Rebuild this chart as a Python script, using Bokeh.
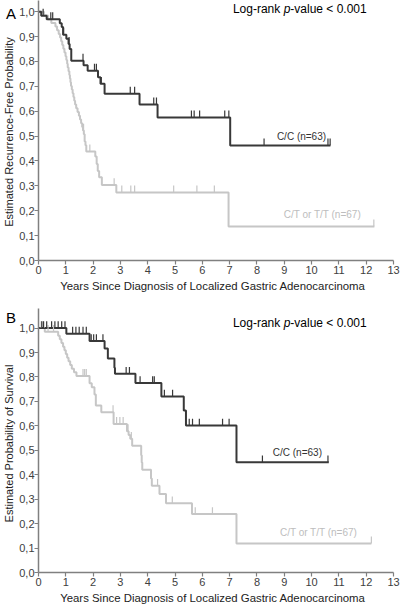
import numpy as np
from bokeh.plotting import figure
from bokeh.layouts import column
from bokeh.models import Label, FixedTicker, CustomJSTickFormatter, Range1d, Div
from bokeh.embed import file_html
from bokeh.resources import INLINE

# ---------------- data ----------------
x_ticks = list(range(0, 14))
y_ticks = [0.0, 0.1, 0.2, 0.3, 0.4, 0.5, 0.6, 0.7, 0.8, 0.9, 1.0]

# Panel A: recurrence-free probability
rfs_cc_t = [0, 0.10, 0.30, 0.78, 0.85, 0.90, 1.02, 1.10, 1.14, 1.20, 1.65, 1.80, 2.18, 2.27, 2.42, 3.70, 4.36, 7.02, 10.69]
rfs_cc_s = [1.0, 0.984, 0.970, 0.954, 0.938, 0.907, 0.891, 0.870, 0.850, 0.803, 0.785, 0.763, 0.737, 0.710, 0.670, 0.627, 0.575, 0.462, 0.462]
rfs_cc_cens = [0.17, 0.45, 0.52, 0.92, 1.12, 1.63, 2.05, 2.12, 2.30, 3.36, 3.52, 4.22, 4.32, 5.60, 5.70, 5.90, 6.82, 6.97, 8.26, 10.60, 10.68]

rfs_ct_t = [0, 0.20, 0.35, 0.47, 0.62, 0.68, 0.74, 0.79, 0.83, 0.87, 0.91, 0.95, 0.99, 1.02, 1.05, 1.07, 1.10, 1.13, 1.15,
            1.17, 1.19, 1.22, 1.25, 1.28, 1.31, 1.34, 1.38, 1.43, 1.48, 1.52, 1.56, 1.60, 1.63, 1.66, 1.69, 1.72, 1.75,
            2.08, 2.13, 2.17, 2.22, 2.32, 2.85, 6.96, 12.30]
rfs_ct_s = [1.0, 0.985, 0.970, 0.955, 0.940, 0.925, 0.910, 0.896, 0.881, 0.866, 0.851, 0.836, 0.821, 0.806, 0.791, 0.776, 0.761, 0.746, 0.731,
            0.716, 0.701, 0.687, 0.672, 0.657, 0.642, 0.627, 0.612, 0.597, 0.582, 0.567, 0.552, 0.537, 0.522, 0.507, 0.478, 0.463, 0.438,
            0.418, 0.388, 0.360, 0.335, 0.303, 0.273, 0.137, 0.137]
rfs_ct_cens = [1.65, 1.88, 2.77, 3.05, 3.38, 3.52, 4.95, 5.80, 6.44, 12.28]

# Panel B: overall survival
os_cc_t = [0, 1.02, 1.87, 2.42, 2.54, 2.78, 2.80, 3.55, 4.50, 5.32, 5.40, 7.25, 10.63]
os_cc_s = [1.0, 0.977, 0.947, 0.916, 0.875, 0.838, 0.813, 0.775, 0.720, 0.663, 0.601, 0.451, 0.451]
os_cc_cens = [0.12, 0.18, 0.30, 0.48, 0.60, 0.72, 0.85, 0.97, 1.25, 1.37, 1.49, 1.63, 1.75, 1.93, 2.02, 2.12, 2.36,
              3.21, 3.33, 3.72, 4.18, 4.24, 4.61, 4.91, 5.52, 5.64, 5.89, 6.74, 6.98, 8.20, 10.60]

os_ct_t = [0, 0.23, 0.72, 0.78, 0.84, 0.90, 0.95, 1.00, 1.05, 1.10, 1.16, 1.22, 1.30, 1.39, 1.87, 1.95, 2.05, 2.10, 2.30, 2.75,
           3.24, 3.30, 3.36, 3.43, 3.76, 3.78, 3.80, 4.12, 4.15, 4.43, 4.67, 5.62, 7.25, 12.19]
os_ct_s = [1.0, 0.985, 0.969, 0.954, 0.939, 0.924, 0.909, 0.894, 0.879, 0.864, 0.849, 0.834, 0.819, 0.804, 0.774, 0.758, 0.728, 0.683, 0.656, 0.608,
           0.578, 0.562, 0.547, 0.519, 0.480, 0.450, 0.420, 0.385, 0.355, 0.321, 0.283, 0.239, 0.119, 0.119]
os_ct_cens = [0.10, 0.20, 0.35, 0.55, 1.63, 1.69, 1.75, 2.73, 2.86, 2.98, 3.10, 3.28, 3.40, 4.36, 4.90, 5.74, 6.37, 12.19]

labels_cc = "C/C (n=63)"
labels_ct = "C/T or T/T (n=67)"
x_title = "Years  Since  Diagnosis of Localized Gastric Adenocarcinoma"
y_title_a = "Estimated Recurrence-Free  Probability"
y_title_b = "Estimated Probability  of  Survival"

DARK = "#383838"
LIGHT = "#c6c6c6"
FONT = "Liberation Sans"


def step_value(ts, ss, t):
    i = np.searchsorted(np.array(ts), t, side="right") - 1
    return ss[max(i, 0)]


def panel(h, top_border, ytop, cc_t, cc_s, cc_c, ct_t, ct_s, ct_c, ytitle, lr_y, cc_lab, ct_lab):
    p = figure(width=400, height=h, output_backend="svg", toolbar_location=None,
               x_range=Range1d(0, 13), y_range=Range1d(0, ytop),
               min_border_left=37, min_border_right=7, min_border_top=top_border, min_border_bottom=0)
    p.outline_line_color = None
    p.grid.grid_line_color = None
    p.background_fill_color = "white"
    for ax in (p.xaxis[0], p.yaxis[0]):
        ax.axis_line_color = "#808080"
        ax.axis_line_width = 1.5
        ax.major_tick_line_color = "#808080"
        ax.major_tick_line_width = 1.2
        ax.major_tick_in = 0
        ax.major_tick_out = 4
        ax.minor_tick_line_color = None
        ax.major_label_text_font = FONT
        ax.major_label_text_font_size = "11px"
        ax.major_label_text_color = "#404040"
        ax.axis_label_text_font = FONT
        ax.axis_label_text_font_style = "normal"
        ax.axis_label_text_color = "#222222"
    p.xaxis.axis_label_text_font_size = "11.4px"
    p.yaxis.axis_label_text_font_size = "11px"
    p.xaxis.major_label_standoff = 1
    p.yaxis.major_label_standoff = 0
    p.xaxis.ticker = FixedTicker(ticks=x_ticks)
    p.yaxis.ticker = FixedTicker(ticks=y_ticks)
    p.yaxis.formatter = CustomJSTickFormatter(code="return tick.toFixed(1).replace('.', ',');")
    p.xaxis.axis_label = x_title
    p.xaxis.axis_label_standoff = 3
    p.yaxis.axis_label = ytitle
    p.yaxis.axis_label_standoff = 1

    # curves
    p.step(x=ct_t, y=ct_s, mode="after", line_color=LIGHT, line_width=2)
    p.step(x=cc_t, y=cc_s, mode="after", line_color=DARK, line_width=2)
    # censor ticks
    for cens, ts, ss, col in ((ct_c, ct_t, ct_s, LIGHT), (cc_c, cc_t, cc_s, DARK)):
        ys = [step_value(ts, ss, c) for c in cens]
        p.segment(x0=cens, x1=cens, y0=ys, y1=[v + 0.028 for v in ys], line_color=col, line_width=1.2)

    # curve labels
    p.add_layout(Label(x=cc_lab[0], y=cc_lab[1], text=labels_cc, text_font=FONT, text_font_size="10px",
                       text_color="#333333", text_align="center", text_baseline="middle"))
    p.add_layout(Label(x=ct_lab[0], y=ct_lab[1], text=labels_ct, text_font=FONT, text_font_size="10px",
                       text_color="#bdbdbd", text_align="center", text_baseline="middle"))

    # log-rank text
    p.add_layout(Label(x=7.12, y=lr_y, text="Log-rank ", text_font=FONT, text_font_size="12px",
                       text_color="black", text_align="left", text_baseline="middle"))
    p.add_layout(Label(x=7.12, y=lr_y, x_offset=50.7, text="p", text_font=FONT, text_font_size="12px",
                       text_font_style="italic", text_color="black", text_align="left", text_baseline="middle"))
    p.add_layout(Label(x=7.12, y=lr_y, x_offset=57.4, text="-value < 0.001", text_font=FONT,
                       text_font_size="12px", text_color="black", text_align="left", text_baseline="middle"))
    return p


pa = panel(294, 0, 1.045, rfs_cc_t, rfs_cc_s, rfs_cc_cens, rfs_ct_t, rfs_ct_s, rfs_ct_cens,
           y_title_a, 1.012, (9.63, 0.498), (10.4, 0.183))
pb = panel(312, 14, 1.08, os_cc_t, os_cc_s, os_cc_cens, os_ct_t, os_ct_s, os_ct_cens,
           y_title_b, 1.02, (9.48, 0.492), (10.26, 0.163))


def letter(txt, top):
    return Div(text=txt, width=14, height=18,
               styles={"position": "absolute", "left": "1px", "top": f"{top}px", "z-index": "10",
                       "font-family": FONT, "font-size": "15px", "color": "black", "line-height": "16px"})


layout = column(pa, pb, letter("A", 1), letter("B", 305), spacing=0)
open("out.html", "w").write(file_html(layout, INLINE))
